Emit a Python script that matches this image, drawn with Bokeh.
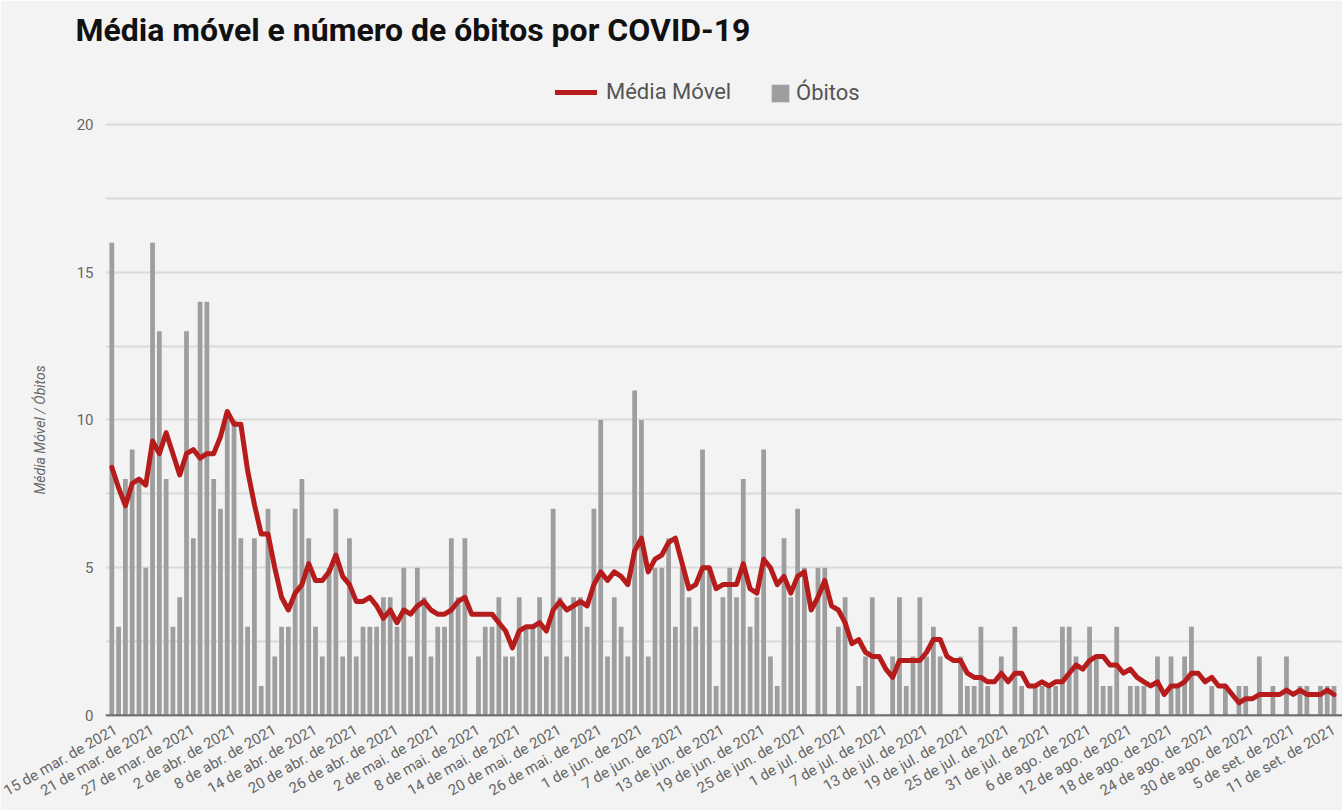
from bokeh.plotting import figure
from bokeh.models import (Range1d, FixedTicker, Span, Title,
                          Legend, LegendItem, ColumnDataSource)
from bokeh.embed import file_html
from bokeh.resources import INLINE

# ---- data ----
obitos = [
    16, 3, 8, 9, 8, 5, 16, 13, 8, 3,
    4, 13, 6, 14, 14, 8, 7, 10, 10, 6,
    3, 6, 1, 7, 2, 3, 3, 7, 8, 6,
    3, 2, 5, 7, 2, 6, 2, 3, 3, 3,
    4, 4, 3, 5, 2, 5, 4, 2, 3, 3,
    6, 4, 6, 0, 2, 3, 3, 4, 2, 2,
    4, 3, 3, 4, 2, 7, 4, 2, 4, 4,
    3, 7, 10, 2, 4, 3, 2, 11, 10, 2,
    5, 5, 6, 3, 5, 4, 3, 9, 5, 1,
    4, 5, 4, 8, 3, 4, 9, 2, 1, 6,
    4, 7, 5, 0, 5, 5, 0, 3, 4, 0,
    1, 2, 4, 0, 0, 2, 4, 1, 2, 4,
    2, 3, 2, 0, 0, 2, 1, 1, 3, 1,
    0, 2, 0, 3, 1, 0, 1, 1, 1, 1,
    3, 3, 2, 0, 3, 2, 1, 1, 3, 0,
    1, 1, 1, 0, 2, 0, 2, 1, 2, 3,
    0, 0, 1, 0, 1, 0, 1, 1, 0, 2,
    0, 1, 0, 2, 0, 1, 1, 0, 1, 1,
    1,
]

media_movel = [
    8.4, 7.7, 7.1, 7.85, 8.0, 7.8, 9.29, 8.86, 9.57, 8.86,
    8.14, 8.86, 9.0, 8.71, 8.86, 8.86, 9.43, 10.29, 9.86, 9.86,
    8.29, 7.14, 6.14, 6.14, 5.0, 4.0, 3.57, 4.14, 4.43, 5.14,
    4.57, 4.57, 4.86, 5.43, 4.71, 4.43, 3.86, 3.86, 4.0, 3.71,
    3.29, 3.57, 3.14, 3.57, 3.43, 3.71, 3.86, 3.57, 3.43, 3.43,
    3.57, 3.86, 4.0, 3.43, 3.43, 3.43, 3.43, 3.14, 2.86, 2.29,
    2.86, 3.0, 3.0, 3.14, 2.86, 3.57, 3.86, 3.57, 3.71, 3.86,
    3.71, 4.43, 4.86, 4.57, 4.86, 4.71, 4.43, 5.57, 6.0, 4.86,
    5.29, 5.43, 5.86, 6.0, 5.14, 4.29, 4.43, 5.0, 5.0, 4.29,
    4.43, 4.43, 4.43, 5.14, 4.29, 4.14, 5.29, 5.0, 4.43, 4.71,
    4.14, 4.71, 4.86, 3.57, 4.0, 4.57, 3.71, 3.57, 3.14, 2.43,
    2.57, 2.14, 2.0, 2.0, 1.57, 1.29, 1.86, 1.86, 1.86, 1.86,
    2.14, 2.57, 2.57, 2.0, 1.86, 1.86, 1.43, 1.29, 1.29, 1.14,
    1.14, 1.43, 1.14, 1.43, 1.43, 1.0, 1.0, 1.14, 1.0, 1.14,
    1.14, 1.43, 1.71, 1.57, 1.86, 2.0, 2.0, 1.71, 1.71, 1.43,
    1.57, 1.29, 1.14, 1.0, 1.14, 0.71, 1.0, 1.0, 1.14, 1.43,
    1.43, 1.14, 1.29, 1.0, 1.0, 0.71, 0.43, 0.57, 0.57, 0.71,
    0.71, 0.71, 0.71, 0.86, 0.71, 0.86, 0.71, 0.71, 0.71, 0.86,
    0.71,
]

tick_labels = [
    "15 de mar. de 2021", "21 de mar. de 2021", "27 de mar. de 2021",
    "2 de abr. de 2021", "8 de abr. de 2021", "14 de abr. de 2021",
    "20 de abr. de 2021", "26 de abr. de 2021", "2 de mai. de 2021",
    "8 de mai. de 2021", "14 de mai. de 2021", "20 de mai. de 2021",
    "26 de mai. de 2021", "1 de jun. de 2021", "7 de jun. de 2021",
    "13 de jun. de 2021", "19 de jun. de 2021", "25 de jun. de 2021",
    "1 de jul. de 2021", "7 de jul. de 2021", "13 de jul. de 2021",
    "19 de jul. de 2021", "25 de jul. de 2021", "31 de jul. de 2021",
    "6 de ago. de 2021", "12 de ago. de 2021", "18 de ago. de 2021",
    "24 de ago. de 2021", "30 de ago. de 2021", "5 de set. de 2021",
    "11 de set. de 2021",
]
tick_step = 6
y_ticks = [0, 5, 10, 15, 20]
y_minor = [2.5, 7.5, 12.5, 17.5]

dias = list(range(len(obitos)))
src = ColumnDataSource(dict(dia=dias, obitos=obitos, media=media_movel))

BG = "#f3f3f3"
GRID = "#dadada"
TXT = "#666666"

p = figure(width=1342, height=810, output_backend="svg", toolbar_location=None,
           x_range=Range1d(-0.93, 181.25), y_range=Range1d(-0.034, 22.369),
           min_border_left=105, min_border_right=0, min_border_top=54,
           min_border_bottom=94,
           background_fill_color=BG, border_fill_color=BG, outline_line_color=None)

# title
p.title.text = "Média móvel e número de óbitos por COVID-19"
p.title.text_font = "Roboto"
p.title.text_font_size = "32px"
p.title.text_font_style = "bold"
p.title.text_color = "#111111"
p.title.align = "left"
p.title.offset = -30
p.title.standoff = 12

# grid
p.xgrid.visible = False
p.yaxis.ticker = FixedTicker(ticks=y_ticks, minor_ticks=y_minor)
p.ygrid.grid_line_color = GRID
p.ygrid.grid_line_width = 2
p.ygrid.minor_grid_line_color = GRID
p.ygrid.minor_grid_line_width = 2

bars = p.vbar(x="dia", top="obitos", width=0.7, source=src,
              fill_color="#9e9e9e", line_color=None)
ln = p.line(x="dia", y="media", source=src, line_color="#b71c1c",
            line_width=5, line_join="round", line_cap="round")

p.add_layout(Span(location=0, dimension="width", line_color="#6e6e6e",
                  line_width=2.5))

# x axis
ticks = [i * tick_step for i in range(len(tick_labels))]
p.xaxis.ticker = FixedTicker(ticks=ticks)
p.xaxis.major_label_overrides = {t: lab for t, lab in zip(ticks, tick_labels)}
p.xaxis.major_label_orientation = 0.52
p.xaxis.major_label_text_font = "Roboto"
p.xaxis.major_label_text_font_size = "15px"
p.xaxis.major_label_text_color = TXT
p.xaxis.major_label_standoff = 6
p.xaxis.axis_line_color = None
p.xaxis.major_tick_line_color = None
p.xaxis.minor_tick_line_color = None

# y axis
p.yaxis.major_label_text_font = "Roboto"
p.yaxis.major_label_text_font_size = "15px"
p.yaxis.major_label_text_color = TXT
p.yaxis.major_label_standoff = 6
p.yaxis.axis_line_color = None
p.yaxis.major_tick_line_color = None
p.yaxis.minor_tick_line_color = None

# y axis title (side title so it can be placed along the axis)
p.add_layout(Title(text="Média Móvel / Óbitos", align="left", offset=222,
                   text_font="Roboto", text_font_size="14px",
                   text_font_style="italic", text_color=TXT, standoff=52),
             "left")

# legends
common = dict(orientation="horizontal", padding=0, margin=0, spacing=0,
              border_line_color=None, background_fill_alpha=0,
              label_text_font="Roboto", label_text_font_size="22px",
              label_text_color="#555555")
leg1 = Legend(items=[LegendItem(label="Média Móvel", renderers=[ln])],
              location=(450, 612), glyph_width=42, glyph_height=20,
              label_standoff=9, **common)
leg2 = Legend(items=[LegendItem(label="Óbitos", renderers=[bars])],
              location=(664, 611), glyph_width=22, glyph_height=22,
              label_standoff=5, **common)
p.add_layout(leg1)
p.add_layout(leg2)

open("out.html", "w").write(file_html(p, INLINE, "COVID-19"))
